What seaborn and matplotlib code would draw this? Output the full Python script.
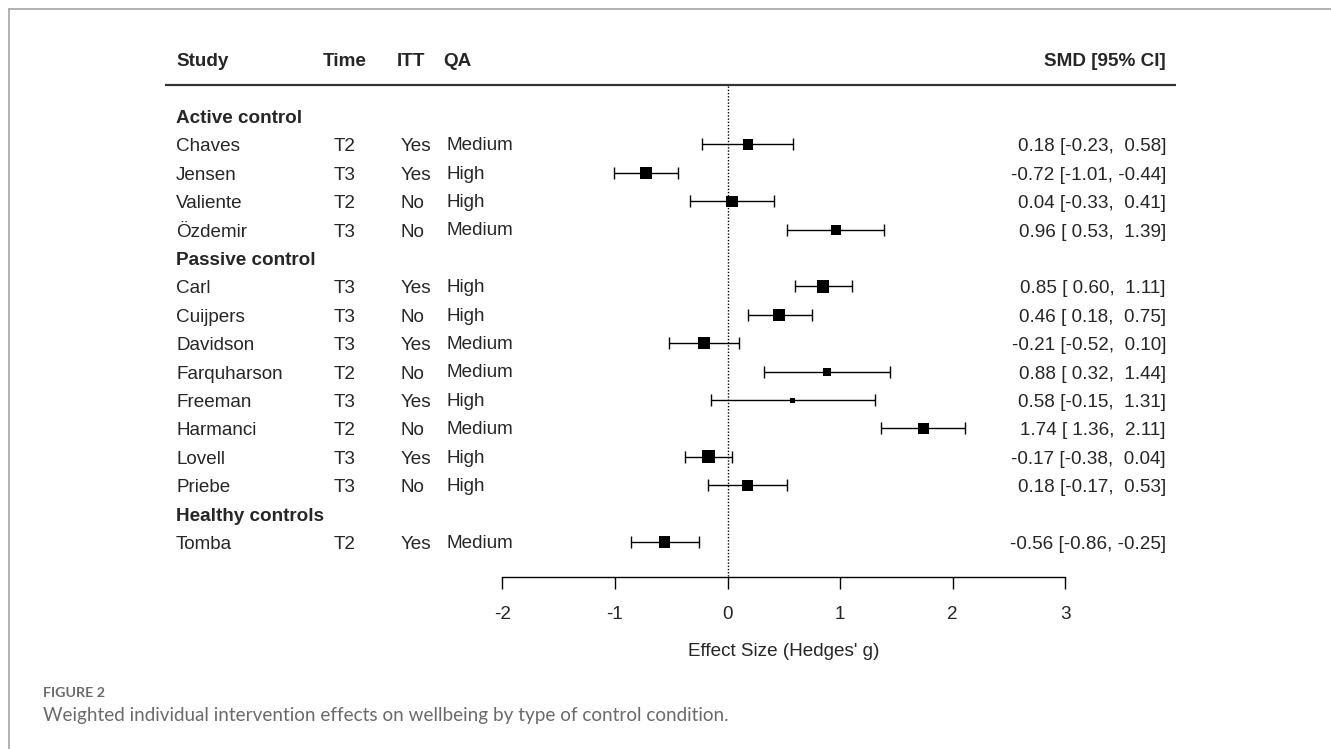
import pandas as pd
import matplotlib.pyplot as plt
import matplotlib.lines as mlines
import seaborn as sns

# data
groups = ["Active control", "Passive control", "Healthy controls"]
study = ["Chaves", "Jensen", "Valiente", "Özdemir",
         "Carl", "Cuijpers", "Davidson", "Farquharson", "Freeman", "Harmanci", "Lovell", "Priebe",
         "Tomba"]
group = ["Active control"] * 4 + ["Passive control"] * 8 + ["Healthy controls"]
time = ["T2", "T3", "T2", "T3", "T3", "T3", "T3", "T2", "T3", "T2", "T3", "T3", "T2"]
itt = ["Yes", "Yes", "No", "No", "Yes", "No", "Yes", "No", "Yes", "No", "Yes", "No", "Yes"]
qa = ["Medium", "High", "High", "Medium", "High", "High", "Medium", "Medium", "High", "Medium",
      "High", "High", "Medium"]
smd = [0.18, -0.72, 0.04, 0.96, 0.85, 0.46, -0.21, 0.88, 0.58, 1.74, -0.17, 0.18, -0.56]
lower = [-0.23, -1.01, -0.33, 0.53, 0.60, 0.18, -0.52, 0.32, -0.15, 1.36, -0.38, -0.17, -0.86]
upper = [0.58, -0.44, 0.41, 1.39, 1.11, 0.75, 0.10, 1.44, 1.31, 2.11, 0.04, 0.53, -0.25]
# relative weights (%) estimated from the square sizes
weight = [7.6, 8.1, 7.8, 7.5, 8.2, 8.1, 8.0, 6.8, 5.9, 7.7, 8.4, 7.8, 8.0]

df = pd.DataFrame({"study": study, "group": group, "time": time, "itt": itt, "qa": qa,
                   "smd": smd, "lower": lower, "upper": upper, "weight": weight})

# row layout: group header followed by its studies
rows = []
r = 0
head_rows = {}
for g in groups:
    head_rows[g] = r
    r += 1
    for i in df.index[df["group"] == g]:
        rows.append((i, r))
        r += 1
df["row"] = [rr for _, rr in sorted(rows)]

sns.set_style("white")
plt.rcParams["font.family"] = ["Liberation Sans", "DejaVu Sans"]
fs = 13.6

fig = plt.figure(figsize=(13.31, 7.49), dpi=100)
ax = fig.add_axes([0, 0, 1, 1])

# pixel -> data helpers for layout
px_per_x = 112.6
x0_px = 727.5
row0_px, row_px = 116, 28.4
def X(px):
    return (px - x0_px) / px_per_x
def R(py):
    return (py - row0_px) / row_px

ax.set_xlim(X(0), X(1331))
ax.set_ylim(R(749), R(0))

# error bars and weighted squares
ax.errorbar(df["smd"], df["row"], xerr=[df["smd"] - df["lower"], df["upper"] - df["smd"]],
            fmt="none", ecolor="black", elinewidth=1.0, capsize=4.3, capthick=1.0, zorder=2)
wmin, wmax = min(weight), max(weight)
side = {w: 5 + 8 * (w - wmin) / (wmax - wmin) for w in weight}
sizes = {w: (s * 0.72) ** 2 for w, s in side.items()}
sns.scatterplot(data=df, x="smd", y="row", size="weight", sizes=sizes, marker="s",
                color="black", linewidth=0, legend=False, ax=ax, zorder=3)

# reference line and header rule
ax.vlines(0, R(86), R(576), colors="black", linestyles=(0, (1, 1.3)), lw=1.0)
ax.hlines(R(85), X(165), X(1176), colors="#333333", lw=1.6)

# x axis
sns.despine(ax=ax, left=True, top=True, right=True)
ax.spines["bottom"].set_position(("data", R(577)))
ax.spines["bottom"].set_bounds(-2, 3)
ax.spines["bottom"].set_linewidth(1.0)
ax.spines["bottom"].set_color("black")
ax.set_xticks(range(-2, 4))
ax.set_xticklabels([str(t) for t in range(-2, 4)])
ax.tick_params(axis="x", direction="out", length=8.3, width=1.0, color="black",
               pad=12.5, labelsize=fs, bottom=True)
ax.set_yticks([])
ax.set_xlabel("")
ax.set_ylabel("")
ax.text(0.5, R(651), "Effect Size (Hedges' g)", ha="center", va="center", fontsize=fs)

# text rows sit a little lower than the bbox centre
dy = 2.5 / row_px

# column headers
hy = R(61)
ax.text(X(176), hy, "Study", ha="left", va="center", fontsize=fs, fontweight="bold")
ax.text(X(323), hy, "Time", ha="left", va="center", fontsize=fs, fontweight="bold")
ax.text(X(397), hy, "ITT", ha="left", va="center", fontsize=fs, fontweight="bold")
ax.text(X(443), hy, "QA", ha="left", va="center", fontsize=fs, fontweight="bold")
ax.text(X(1166), hy, "SMD [95% CI]", ha="right", va="center", fontsize=fs, fontweight="bold")

for g, hr in head_rows.items():
    ax.text(X(176), hr + dy, g, ha="left", va="center", fontsize=fs, fontweight="bold")

for _, d in df.iterrows():
    y = d["row"] + dy
    ax.text(X(176), y, d["study"], ha="left", va="center", fontsize=fs)
    ax.text(X(334), y, d["time"], ha="left", va="center", fontsize=fs)
    ax.text(X(401), y, d["itt"], ha="left", va="center", fontsize=fs)
    ax.text(X(446), y - 0.04, d["qa"], ha="left", va="center", fontsize=fs)
    ci = f"{d['smd']:.2f} [{d['lower']:5.2f}, {d['upper']:5.2f}]"
    ax.text(X(1166), y, ci, ha="right", va="center", fontsize=fs)

# panel border and caption
W, H = 1331, 749
fig.add_artist(mlines.Line2D([8.5 / W, 1], [1 - 8.5 / H, 1 - 8.5 / H], color="#aaaaaa", lw=1.3))
fig.add_artist(mlines.Line2D([8.5 / W, 8.5 / W], [0, 1 - 8.5 / H], color="#aaaaaa", lw=1.3))
fig.text(43 / W, 1 - 693 / H, "FIGURE 2", ha="left", va="center", fontsize=10.3,
         color="#6b6b6b", family=["Lato", "DejaVu Sans"], fontweight="bold")
fig.text(43 / W, 1 - 716 / H,
         "Weighted individual intervention effects on wellbeing by type of control condition.",
         ha="left", va="center", fontsize=13.6, color="#6b6b6b", family=["Lato", "DejaVu Sans"])

fig.savefig("out.png", dpi=100)
